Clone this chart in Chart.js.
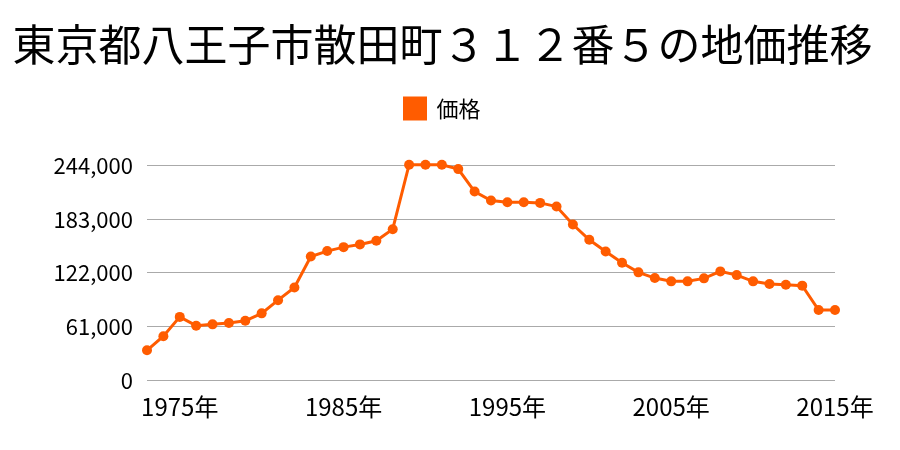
<!DOCTYPE html>
<html>
<head>
<meta charset="utf-8">
<script src="https://cdn.jsdelivr.net/npm/chart.js@4/dist/chart.umd.min.js"></script>
<style>
  html, body { margin: 0; padding: 0; background: #fff; }
  #wrap { width: 900px; height: 450px; }
</style>
</head>
<body>
<div id="wrap"><canvas id="chart"></canvas></div>
<script>
// data
const years = [];
for (let y = 1973; y <= 2015; y++) years.push(y);
const prices = [
    34000, 50000, 72000, 62000, 63500, 65000, 67500, 76000, 91000, 105500,
    140700, 146800, 151300, 154400, 158500, 171700, 245000, 245000, 245000, 240000,
    214500, 204300, 202400, 202400, 201600, 197500, 177000, 159600, 146400, 133500,
    122600, 116100, 112400, 112400, 115800, 123700, 119500, 112400, 109300, 108600,
    107500, 79800, 79800
];
const tickYears = [1975, 1985, 1995, 2005, 2015];
const yTicks = [0, 61000, 122000, 183000, 244000];

const orange = 'rgb(255, 92, 0)';
const font = "'Noto Sans CJK JP', 'Noto Sans', sans-serif";

// extra room under the legend
const legendSpace = {
    id: 'legendSpace',
    beforeInit(chart) {
        const fit = chart.legend.fit;
        chart.legend.fit = function () {
            fit.bind(chart.legend)();
            this.height += 36;
        };
    }
};

const ctx = document.getElementById('chart').getContext('2d');
const chart = new Chart(ctx, {
    type: 'line',
    data: {
        labels: years.map(y => y + '年'),
        datasets: [{
            label: '価格',
            data: prices,
            borderColor: orange,
            backgroundColor: orange,
            borderWidth: 3,
            pointRadius: 5,
            pointHoverRadius: 5,
            pointBorderWidth: 0,
            tension: 0,
            clip: false
        }]
    },
    options: {
        responsive: true,
        maintainAspectRatio: false,
        animation: false,
        layout: {
            padding: { left: 10, right: 25, top: 8, bottom: 25 }
        },
        plugins: {
            title: {
                display: true,
                text: '東京都八王子市散田町３１２番５の地価推移',
                color: '#000',
                font: { family: font, size: 43, weight: 'normal' },
                padding: { top: 11, bottom: 13 }
            },
            legend: {
                display: true,
                labels: {
                    color: '#000',
                    font: { family: font, size: 22 },
                    boxWidth: 21,
                    boxHeight: 21,
                    padding: 14
                }
            },
            tooltip: { enabled: false }
        },
        scales: {
            x: {
                offset: false,
                grid: { display: false },
                border: { display: false },
                afterFit: function (s) {
                    s.paddingRight = 65;
                },
                ticks: {
                    color: '#000',
                    font: { family: font, size: 24 },
                    autoSkip: false,
                    maxRotation: 0,
                    padding: 4,
                    callback: function (val, i) {
                        return tickYears.includes(years[i]) ? years[i] + '年' : '';
                    }
                }
            },
            y: {
                min: 0,
                max: 244000,
                border: { display: false },
                grid: { color: '#aaa', lineWidth: 1, drawTicks: false },
                afterBuildTicks: function (s) {
                    s.ticks = yTicks.map(v => ({ value: v }));
                },
                afterFit: function (s) {
                    s.width = 137;
                },
                ticks: {
                    color: '#000',
                    font: { family: font, size: 22 },
                    padding: 14,
                    callback: v => v.toLocaleString('en-US')
                }
            }
        }
    },
    plugins: [legendSpace]
});
</script>
</body>
</html>
